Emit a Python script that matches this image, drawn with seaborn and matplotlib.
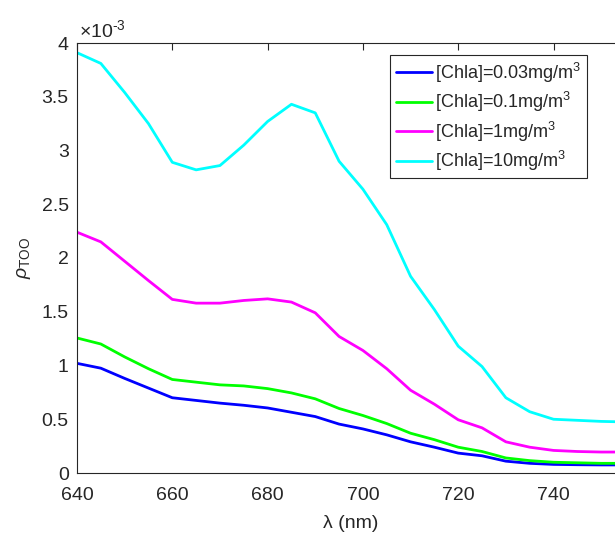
import numpy as np
import pandas as pd
import seaborn as sns
import matplotlib
import matplotlib.pyplot as plt
from matplotlib.ticker import FuncFormatter

# wavelength grid (nm) and reflectance values in units of 1e-3
wavelength = [640, 645, 650, 655, 660, 665, 670, 675, 680, 685, 690, 695,
              700, 705, 710, 715, 720, 725, 730, 735, 740, 745, 750, 755]

chla_003 = [1.02, 0.975, 0.88, 0.79, 0.70, 0.675, 0.65, 0.63, 0.605, 0.565, 0.525, 0.455,
            0.41, 0.355, 0.29, 0.24, 0.185, 0.16, 0.11, 0.09, 0.08, 0.077, 0.075, 0.075]
chla_01 = [1.256, 1.20, 1.08, 0.97, 0.87, 0.845, 0.82, 0.81, 0.785, 0.745, 0.69, 0.60,
           0.535, 0.46, 0.37, 0.31, 0.24, 0.20, 0.14, 0.115, 0.10, 0.095, 0.09, 0.09]
chla_1 = [2.24, 2.15, 1.97, 1.79, 1.615, 1.58, 1.58, 1.605, 1.62, 1.59, 1.49, 1.27,
          1.14, 0.97, 0.77, 0.64, 0.495, 0.42, 0.29, 0.24, 0.21, 0.20, 0.195, 0.195]
chla_10 = [3.91, 3.81, 3.54, 3.25, 2.89, 2.82, 2.86, 3.05, 3.27, 3.43, 3.35, 2.90,
           2.64, 2.31, 1.83, 1.52, 1.18, 0.99, 0.70, 0.57, 0.50, 0.49, 0.48, 0.475]

labels = ['[Chla]=0.03mg/m$^3$', '[Chla]=0.1mg/m$^3$',
          '[Chla]=1mg/m$^3$', '[Chla]=10mg/m$^3$']
colors = ['#0000ff', '#00ff00', '#ff00ff', '#00ffff']

sns.set_style('white')
plt.rcParams['font.family'] = ['Liberation Sans', 'DejaVu Sans']
plt.rcParams['mathtext.fontset'] = 'custom'
plt.rcParams['mathtext.rm'] = 'Liberation Sans'
plt.rcParams['mathtext.it'] = 'Liberation Sans:italic'

df = pd.DataFrame({'wavelength': wavelength * 4,
                   'rho': chla_003 + chla_01 + chla_1 + chla_10,
                   'label': sum([[l] * len(wavelength) for l in labels], [])})

fig = plt.figure(figsize=(6.15, 5.34), dpi=100)
ax = fig.add_axes([77 / 615, 61 / 534, 548 / 615, 430 / 534])

sns.lineplot(data=df, x='wavelength', y='rho', hue='label', palette=colors,
             hue_order=labels, linewidth=2, ax=ax, legend=True)

ax.set_xlim(640, 755)
ax.set_ylim(0, 4)
ax.set_xticks([640, 660, 680, 700, 720, 740])
ax.set_yticks(np.arange(0, 4.01, 0.5))
ax.yaxis.set_major_formatter(FuncFormatter(lambda v, p: f'{v:g}'))
ax.tick_params(direction='in', length=5, width=0.8, labelsize=14,
               colors='#262626', top=True, right=True)
ax.tick_params(axis='x', pad=10)
ax.tick_params(axis='y', pad=6)
for s in ax.spines.values():
    s.set_color('#262626')
    s.set_linewidth(0.8)

ax.set_xlabel('λ (nm)', fontsize=14, color='#262626', labelpad=8)
ax.set_ylabel(r'$\rho_{\rm TOO}$', fontsize=14, color='#262626', labelpad=6)
# axis multiplier, MATLAB style
fig.text(79 / 615, 1 - 37 / 534, r'$\times10^{\text{-3}}$', fontsize=14, color='#262626')

leg = ax.legend(loc='upper right', bbox_to_anchor=(587 / 615, 1 - 55 / 534),
                bbox_transform=fig.transFigure, fontsize=13, frameon=True,
                fancybox=False, edgecolor='#262626', framealpha=1,
                handlelength=2.0, handletextpad=0.2, labelspacing=0.3,
                borderaxespad=0, borderpad=0.3)
leg.get_frame().set_linewidth(0.8)

fig.savefig('out.png', dpi=100)
